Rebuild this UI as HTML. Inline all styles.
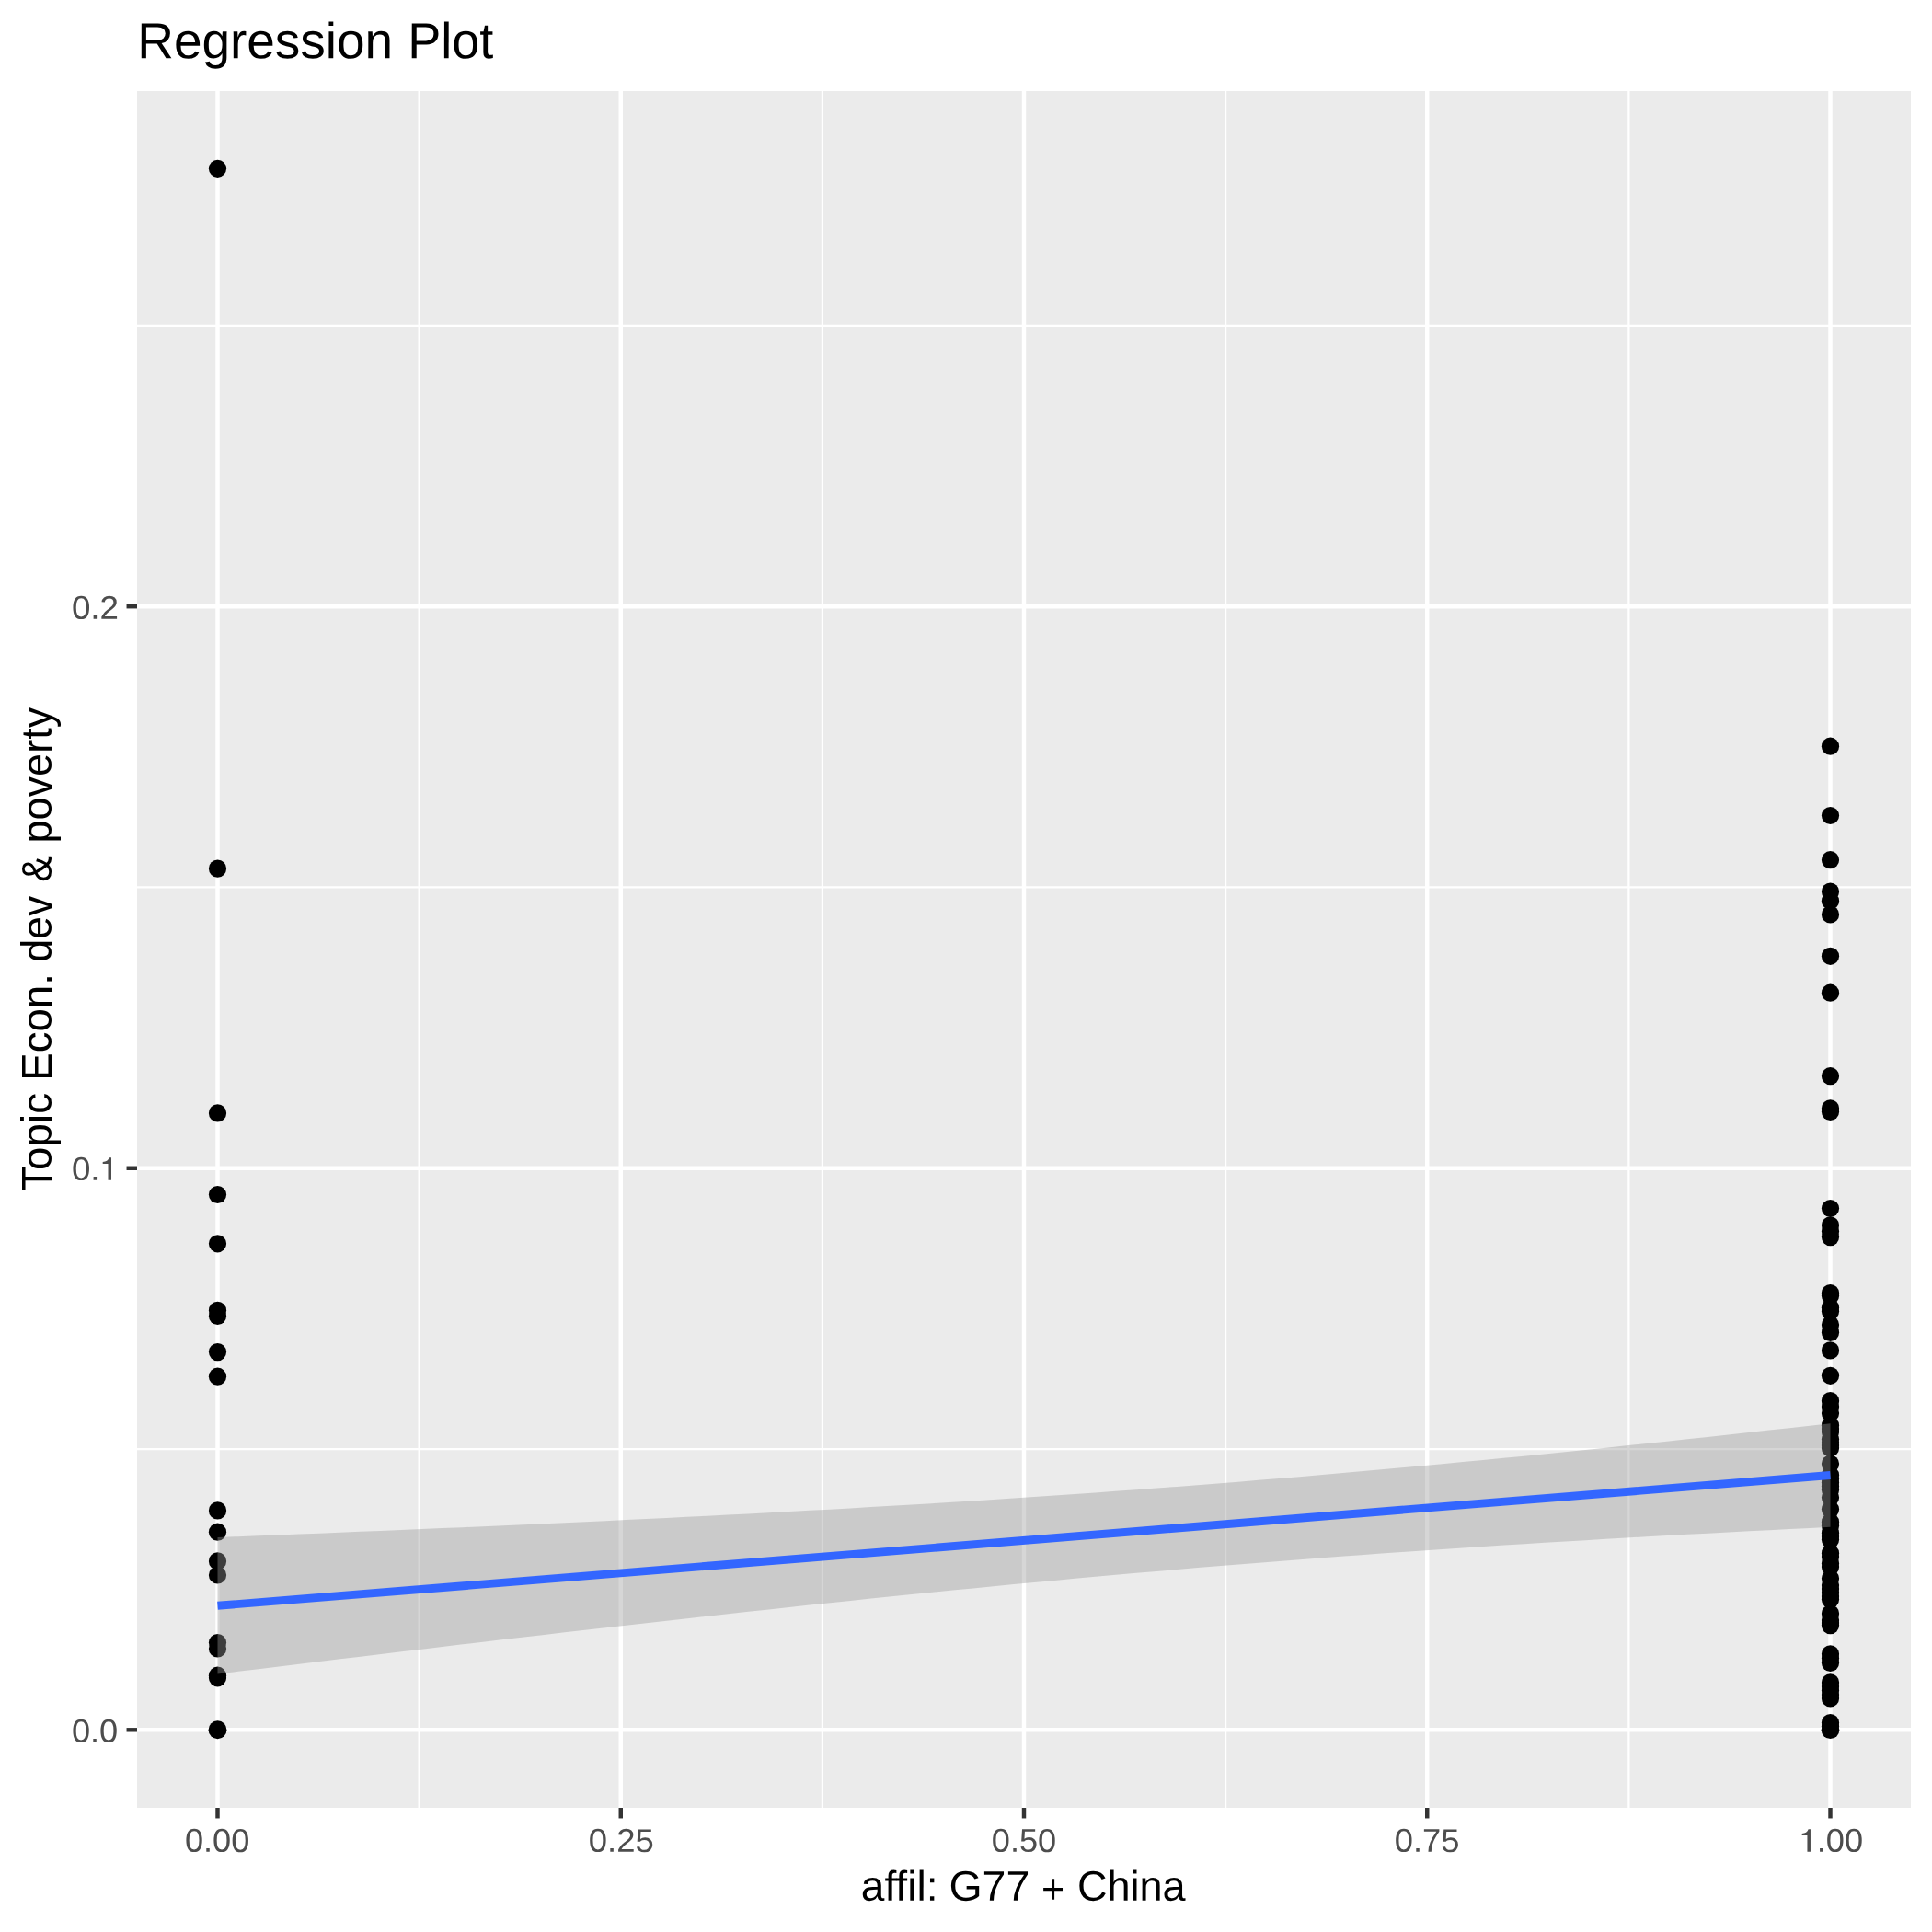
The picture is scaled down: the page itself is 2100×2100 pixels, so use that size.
<!DOCTYPE html>
<html><head><meta charset="utf-8"><title>Regression Plot</title>
<style>html,body{margin:0;padding:0;background:#fff}svg{display:block;will-change:transform}text{font-family:"Liberation Sans",sans-serif;font-variant-ligatures:none;font-kerning:normal}</style></head><body>
<svg xmlns="http://www.w3.org/2000/svg" width="2100" height="2100" viewBox="0 0 2100 2100">
<rect width="2100" height="2100" fill="#fff"/>
<rect x="149.0" y="99.0" width="1928.00" height="1866.00" fill="#EBEBEB"/>
<g stroke="#fff" stroke-width="2.22" fill="none">
<line x1="149.0" x2="2077.0" y1="1575.03" y2="1575.03"/>
<line x1="149.0" x2="2077.0" y1="964.48" y2="964.48"/>
<line x1="149.0" x2="2077.0" y1="353.92" y2="353.92"/>
<line y1="99.0" y2="1965.0" x1="455.62" x2="455.62"/>
<line y1="99.0" y2="1965.0" x1="893.88" x2="893.88"/>
<line y1="99.0" y2="1965.0" x1="1332.12" x2="1332.12"/>
<line y1="99.0" y2="1965.0" x1="1770.38" x2="1770.38"/>
</g>
<g stroke="#fff" stroke-width="4.45" fill="none">
<line x1="149.0" x2="2077.0" y1="1880.30" y2="1880.30"/>
<line x1="149.0" x2="2077.0" y1="1269.75" y2="1269.75"/>
<line x1="149.0" x2="2077.0" y1="659.20" y2="659.20"/>
<line y1="99.0" y2="1965.0" x1="236.50" x2="236.50"/>
<line y1="99.0" y2="1965.0" x1="674.75" x2="674.75"/>
<line y1="99.0" y2="1965.0" x1="1113.00" x2="1113.00"/>
<line y1="99.0" y2="1965.0" x1="1551.25" x2="1551.25"/>
<line y1="99.0" y2="1965.0" x1="1989.50" x2="1989.50"/>
</g>
<g fill="#000">
<circle cx="236.5" cy="183.3" r="9.62"/>
<circle cx="236.5" cy="944.1" r="9.62"/>
<circle cx="236.5" cy="1209.9" r="9.62"/>
<circle cx="236.5" cy="1298.5" r="9.62"/>
<circle cx="236.5" cy="1351.8" r="9.62"/>
<circle cx="236.5" cy="1424.4" r="9.62"/>
<circle cx="236.5" cy="1430.5" r="9.62"/>
<circle cx="236.5" cy="1469.6" r="9.62"/>
<circle cx="236.5" cy="1496.2" r="9.62"/>
<circle cx="236.5" cy="1641.9" r="9.62"/>
<circle cx="236.5" cy="1665.2" r="9.62"/>
<circle cx="236.5" cy="1696.9" r="9.62"/>
<circle cx="236.5" cy="1712.0" r="9.62"/>
<circle cx="236.5" cy="1785.5" r="9.62"/>
<circle cx="236.5" cy="1792.0" r="9.62"/>
<circle cx="236.5" cy="1821.2" r="9.62"/>
<circle cx="236.5" cy="1823.8" r="9.62"/>
<circle cx="236.5" cy="1880.2" r="9.95"/>
<circle cx="1989.5" cy="811.2" r="9.62"/>
<circle cx="1989.5" cy="886.5" r="9.62"/>
<circle cx="1989.5" cy="934.7" r="9.62"/>
<circle cx="1989.5" cy="969.1" r="9.62"/>
<circle cx="1989.5" cy="979.2" r="9.62"/>
<circle cx="1989.5" cy="994.0" r="9.62"/>
<circle cx="1989.5" cy="1039.3" r="9.62"/>
<circle cx="1989.5" cy="1079.2" r="9.62"/>
<circle cx="1989.5" cy="1169.7" r="9.62"/>
<circle cx="1989.5" cy="1204.8" r="9.62"/>
<circle cx="1989.5" cy="1208.5" r="9.62"/>
<circle cx="1989.5" cy="1313.5" r="9.62"/>
<circle cx="1989.5" cy="1331.8" r="9.62"/>
<circle cx="1989.5" cy="1338.5" r="9.62"/>
<circle cx="1989.5" cy="1344.6" r="9.62"/>
<circle cx="1989.5" cy="1405.6" r="9.62"/>
<circle cx="1989.5" cy="1408.4" r="9.62"/>
<circle cx="1989.5" cy="1421.2" r="9.62"/>
<circle cx="1989.5" cy="1425.4" r="9.62"/>
<circle cx="1989.5" cy="1440.1" r="9.62"/>
<circle cx="1989.5" cy="1448.4" r="9.62"/>
<circle cx="1989.5" cy="1467.9" r="9.62"/>
<circle cx="1989.5" cy="1495.3" r="9.62"/>
<circle cx="1989.5" cy="1522.5" r="9.62"/>
<circle cx="1989.5" cy="1529" r="9.62"/>
<circle cx="1989.5" cy="1536" r="9.62"/>
<circle cx="1989.5" cy="1549.3" r="9.62"/>
<circle cx="1989.5" cy="1553" r="9.62"/>
<circle cx="1989.5" cy="1556.5" r="9.62"/>
<circle cx="1989.5" cy="1564.5" r="9.62"/>
<circle cx="1989.5" cy="1568" r="9.62"/>
<circle cx="1989.5" cy="1571" r="9.62"/>
<circle cx="1989.5" cy="1574" r="9.62"/>
<circle cx="1989.5" cy="1591" r="9.62"/>
<circle cx="1989.5" cy="1603.3" r="9.62"/>
<circle cx="1989.5" cy="1607.5" r="9.62"/>
<circle cx="1989.5" cy="1611.5" r="9.62"/>
<circle cx="1989.5" cy="1615.5" r="9.62"/>
<circle cx="1989.5" cy="1619.5" r="9.62"/>
<circle cx="1989.5" cy="1627.8" r="9.62"/>
<circle cx="1989.5" cy="1640.6" r="9.62"/>
<circle cx="1989.5" cy="1654.4" r="9.62"/>
<circle cx="1989.5" cy="1658.4" r="9.62"/>
<circle cx="1989.5" cy="1666.4" r="9.62"/>
<circle cx="1989.5" cy="1670" r="9.62"/>
<circle cx="1989.5" cy="1673.6" r="9.62"/>
<circle cx="1989.5" cy="1688.4" r="9.62"/>
<circle cx="1989.5" cy="1692" r="9.62"/>
<circle cx="1989.5" cy="1699.5" r="9.62"/>
<circle cx="1989.5" cy="1703" r="9.62"/>
<circle cx="1989.5" cy="1715.8" r="9.62"/>
<circle cx="1989.5" cy="1723" r="9.62"/>
<circle cx="1989.5" cy="1727" r="9.62"/>
<circle cx="1989.5" cy="1731" r="9.62"/>
<circle cx="1989.5" cy="1735" r="9.62"/>
<circle cx="1989.5" cy="1738.5" r="9.62"/>
<circle cx="1989.5" cy="1753.9" r="9.62"/>
<circle cx="1989.5" cy="1761" r="9.62"/>
<circle cx="1989.5" cy="1764" r="9.62"/>
<circle cx="1989.5" cy="1766.6" r="9.62"/>
<circle cx="1989.5" cy="1797.8" r="9.62"/>
<circle cx="1989.5" cy="1802.6" r="9.62"/>
<circle cx="1989.5" cy="1807.5" r="9.62"/>
<circle cx="1989.5" cy="1828.9" r="9.62"/>
<circle cx="1989.5" cy="1833" r="9.62"/>
<circle cx="1989.5" cy="1837.5" r="9.62"/>
<circle cx="1989.5" cy="1842" r="9.62"/>
<circle cx="1989.5" cy="1845.9" r="9.62"/>
<circle cx="1989.5" cy="1872.5" r="9.62"/>
<circle cx="1989.5" cy="1876.3" r="9.62"/>
<circle cx="1989.5" cy="1880.2" r="9.85"/>
</g>
<polygon fill="#999999" fill-opacity="0.4" points="236.50,1671.00 258.69,1670.14 280.88,1669.28 303.07,1668.40 325.26,1667.52 347.45,1666.64 369.64,1665.74 391.83,1664.84 414.02,1663.92 436.21,1663.00 458.40,1662.06 480.59,1661.12 502.78,1660.17 524.97,1659.20 547.16,1658.23 569.35,1657.24 591.54,1656.24 613.73,1655.23 635.92,1654.20 658.11,1653.16 680.30,1652.11 702.49,1651.04 724.68,1649.95 746.87,1648.85 769.06,1647.73 791.25,1646.60 813.44,1645.45 835.63,1644.28 857.82,1643.08 880.01,1641.87 902.20,1640.64 924.39,1639.39 946.58,1638.11 968.77,1636.81 990.96,1635.49 1013.15,1634.15 1035.34,1632.78 1057.53,1631.38 1079.72,1629.96 1101.91,1628.51 1124.09,1627.03 1146.28,1625.53 1168.47,1623.99 1190.66,1622.43 1212.85,1620.84 1235.04,1619.22 1257.23,1617.57 1279.42,1615.89 1301.61,1614.17 1323.80,1612.43 1345.99,1610.65 1368.18,1608.85 1390.37,1607.01 1412.56,1605.14 1434.75,1603.25 1456.94,1601.32 1479.13,1599.36 1501.32,1597.37 1523.51,1595.35 1545.70,1593.30 1567.89,1591.23 1590.08,1589.12 1612.27,1586.99 1634.46,1584.83 1656.65,1582.64 1678.84,1580.43 1701.03,1578.20 1723.22,1575.93 1745.41,1573.65 1767.60,1571.34 1789.79,1569.01 1811.98,1566.66 1834.17,1564.29 1856.36,1561.89 1878.55,1559.48 1900.74,1557.05 1922.93,1554.60 1945.12,1552.13 1967.31,1549.65 1989.50,1547.15 1989.50,1659.85 1967.31,1660.94 1945.12,1662.05 1922.93,1663.17 1900.74,1664.31 1878.55,1665.47 1856.36,1666.64 1834.17,1667.84 1811.98,1669.06 1789.79,1670.30 1767.60,1671.56 1745.41,1672.84 1723.22,1674.14 1701.03,1675.47 1678.84,1676.83 1656.65,1678.20 1634.46,1679.61 1612.27,1681.04 1590.08,1682.50 1567.89,1683.98 1545.70,1685.50 1523.51,1687.04 1501.32,1688.61 1479.13,1690.21 1456.94,1691.84 1434.75,1693.50 1412.56,1695.19 1390.37,1696.91 1368.18,1698.67 1345.99,1700.45 1323.80,1702.27 1301.61,1704.11 1279.42,1705.99 1257.23,1707.90 1235.04,1709.84 1212.85,1711.80 1190.66,1713.80 1168.47,1715.83 1146.28,1717.89 1124.09,1719.97 1101.91,1722.09 1079.72,1724.23 1057.53,1726.39 1035.34,1728.59 1013.15,1730.81 990.96,1733.05 968.77,1735.32 946.58,1737.61 924.39,1739.93 902.20,1742.26 880.01,1744.62 857.82,1747.00 835.63,1749.40 813.44,1751.82 791.25,1754.25 769.06,1756.71 746.87,1759.18 724.68,1761.67 702.49,1764.17 680.30,1766.70 658.11,1769.23 635.92,1771.78 613.73,1774.34 591.54,1776.92 569.35,1779.51 547.16,1782.11 524.97,1784.73 502.78,1787.35 480.59,1789.99 458.40,1792.64 436.21,1795.29 414.02,1797.96 391.83,1800.64 369.64,1803.32 347.45,1806.01 325.26,1808.72 303.07,1811.43 280.88,1814.14 258.69,1816.87 236.50,1819.60"/>
<line x1="236.5" y1="1745.3" x2="1989.5" y2="1603.5" stroke="#3366FF" stroke-width="8.89" stroke-linecap="butt"/>
<g stroke="#333333" stroke-width="4.45">
<line x1="137.54" x2="149.0" y1="1880.30" y2="1880.30"/>
<line x1="137.54" x2="149.0" y1="1269.75" y2="1269.75"/>
<line x1="137.54" x2="149.0" y1="659.20" y2="659.20"/>
<line y1="1965.0" y2="1976.46" x1="236.50" x2="236.50"/>
<line y1="1965.0" y2="1976.46" x1="674.75" x2="674.75"/>
<line y1="1965.0" y2="1976.46" x1="1113.00" x2="1113.00"/>
<line y1="1965.0" y2="1976.46" x1="1551.25" x2="1551.25"/>
<line y1="1965.0" y2="1976.46" x1="1989.50" x2="1989.50"/>
</g>
<g fill="#4D4D4D" font-size="36.67">
<text transform="translate(77.90,672.85) rotate(0.03) scale(1.0021,0.975)">0.2</text>
<text transform="translate(77.92,1893.85) rotate(0.03) scale(0.9875,0.975)">0.0</text>
<text transform="translate(77.9,1282.85) rotate(0.03) scale(1,0.975)">0.</text>
<path transform="translate(121.00,1282.85)" d="M0,0H-3.5V-17.9H-9.3V-19.9C-5.6,-20.1 -3.4,-21.5 -2.3,-24.6H0Z"/>
<text transform="translate(200.92,2012.85) rotate(0.03) scale(0.9869,0.975)">0.00</text>
<text transform="translate(639.81,2012.85) rotate(0.03) scale(0.9934,0.975)">0.25</text>
<text transform="translate(1077.82,2012.85) rotate(0.03) scale(0.9861,0.975)">0.50</text>
<text transform="translate(1515.81,2012.85) rotate(0.03) scale(0.9905,0.975)">0.75</text>
<path transform="translate(1967.95,2012.85)" d="M0,0H-3.5V-17.9H-9.3V-19.9C-5.6,-20.1 -3.4,-21.5 -2.3,-24.6H0Z"/>
<text transform="translate(1974.7,2012.85) rotate(0.03) scale(0.987,0.975)">.00</text>
</g>
<g fill="#000">
<text transform="translate(149.20,63.20) rotate(0.03) scale(0.9991,1)" font-size="55">Regression</text>
<text transform="translate(443.18,63.20) rotate(0.03) scale(0.9833,1)" font-size="55">Plot</text>
<text transform="translate(935.79,2065.70) rotate(0.03) scale(1.0052,1)" font-size="45.83">affil:</text>
<text transform="translate(1031.42,2065.70) rotate(0.03) scale(1.0146,1)" font-size="45.83">G77</text>
<text transform="translate(1131.89,2068.70) rotate(0.03) scale(0.9393,1)" font-size="45.83">+</text>
<text transform="translate(1170.89,2065.70) rotate(0.03) scale(0.9830,1)" font-size="45.83">China</text>
<text transform="translate(55.90,1294.90) rotate(-90) scale(1.0005,1)" font-size="45.83">Topic</text>
<text transform="translate(55.90,1174.73) rotate(-90) scale(0.9950,1)" font-size="45.83">Econ.</text>
<text transform="translate(55.90,1045.85) rotate(-90) scale(0.9770,1)" font-size="45.83">dev</text>
<text transform="translate(55.90,958.80) rotate(-90) scale(0.9345,1)" font-size="45.83">&amp;</text>
<text transform="translate(55.90,916.55) rotate(-90) scale(0.9837,1)" font-size="45.83">poverty</text>
</g>
</svg></body></html>
